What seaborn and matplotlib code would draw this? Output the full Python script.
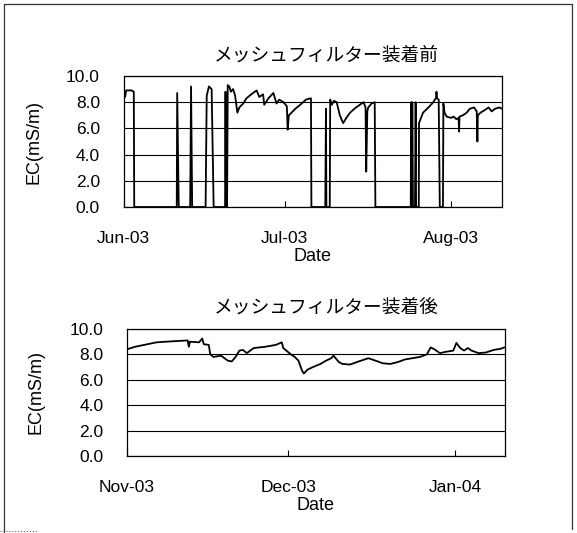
import matplotlib
matplotlib.use("Agg")
import matplotlib.pyplot as plt
import matplotlib.dates as mdates
from matplotlib.lines import Line2D
from matplotlib.ticker import FormatStrFormatter
import numpy as np
import pandas as pd
import seaborn as sns

# ---- EC record before the mesh filter was fitted (Jun - Aug 2003) ----
before_time = [
    "2003-06-01 00:00", "2003-06-01 07:00", "2003-06-01 12:00", "2003-06-02 12:00",
    "2003-06-02 22:00", "2003-06-03 00:00", "2003-06-10 22:00", "2003-06-11 00:00",
    "2003-06-11 07:00", "2003-06-13 10:00", "2003-06-13 14:00", "2003-06-13 19:00",
    "2003-06-16 07:00", "2003-06-16 12:00", "2003-06-16 22:00", "2003-06-17 10:00",
    "2003-06-17 19:00", "2003-06-19 22:00", "2003-06-20 00:00", "2003-06-20 02:00",
    "2003-06-20 07:00", "2003-06-20 10:00", "2003-06-20 17:00", "2003-06-21 00:00",
    "2003-06-21 10:00", "2003-06-21 19:00", "2003-06-22 05:00", "2003-06-22 14:00",
    "2003-06-23 07:00", "2003-06-23 22:00", "2003-06-24 19:00", "2003-06-25 19:00",
    "2003-06-26 07:00", "2003-06-27 00:00", "2003-06-27 05:00", "2003-06-28 00:00",
    "2003-06-28 22:00", "2003-06-29 12:00", "2003-06-30 00:00", "2003-06-30 19:00",
    "2003-07-01 10:00", "2003-07-01 14:00", "2003-07-01 19:00", "2003-07-02 07:00",
    "2003-07-03 00:00", "2003-07-03 22:00", "2003-07-05 00:00", "2003-07-05 22:00",
    "2003-07-06 00:00", "2003-07-08 14:00", "2003-07-08 17:00", "2003-07-08 19:00",
    "2003-07-09 10:00", "2003-07-09 12:00", "2003-07-09 19:00", "2003-07-10 05:00",
    "2003-07-10 17:00", "2003-07-11 07:00", "2003-07-11 22:00", "2003-07-12 12:00",
    "2003-07-13 05:00", "2003-07-14 00:00", "2003-07-15 00:00", "2003-07-15 17:00",
    "2003-07-16 02:00", "2003-07-16 05:00", "2003-07-16 10:00", "2003-07-16 14:00",
    "2003-07-17 05:00", "2003-07-17 19:00", "2003-07-17 22:00", "2003-07-24 12:00",
    "2003-07-24 14:00", "2003-07-24 17:00", "2003-07-24 19:00", "2003-07-24 22:00",
    "2003-07-25 07:00", "2003-07-25 10:00", "2003-07-25 12:00", "2003-07-26 00:00",
    "2003-07-26 01:00", "2003-07-26 19:00", "2003-07-27 19:00", "2003-07-28 17:00",
    "2003-07-29 00:00", "2003-07-29 05:00", "2003-07-29 07:00", "2003-07-29 10:00",
    "2003-07-29 17:00", "2003-07-29 22:00", "2003-07-30 12:00", "2003-07-30 14:00",
    "2003-07-30 19:00", "2003-07-31 05:00", "2003-08-01 00:00", "2003-08-01 12:00",
    "2003-08-02 00:00", "2003-08-02 10:00", "2003-08-02 12:00", "2003-08-02 14:00",
    "2003-08-03 05:00", "2003-08-03 22:00", "2003-08-04 12:00", "2003-08-05 07:00",
    "2003-08-05 19:00", "2003-08-05 22:00", "2003-08-06 00:00", "2003-08-06 12:00",
    "2003-08-07 07:00", "2003-08-08 00:00", "2003-08-08 14:00", "2003-08-09 05:00",
    "2003-08-10 00:00", "2003-08-10 12:00",
]
before_ec = [
    9.1, 8.4, 8.9, 8.9,
    8.8, 0.0, 0.0, 8.7,
    0.0, 0.0, 9.2, 0.0,
    0.0, 8.5, 9.2, 9.0,
    0.0, 0.0, 8.8, 0.0,
    0.0, 9.3, 9.2, 8.8,
    9.0, 8.5, 7.2, 7.6,
    7.9, 8.3, 8.6, 8.9,
    8.4, 8.6, 7.8, 8.3,
    8.7, 7.9, 8.2, 8.0,
    7.7, 5.9, 7.0, 7.2,
    7.5, 7.8, 8.2, 8.3,
    0.0, 0.0, 7.5, 0.0,
    0.0, 8.2, 7.8, 8.1,
    8.0, 7.0, 6.4, 6.8,
    7.2, 7.5, 7.8, 8.0,
    7.6, 2.7, 7.3, 7.6,
    7.9, 8.0, 0.0, 0.0,
    8.0, 0.0, 8.0, 0.0,
    0.0, 8.0, 0.0, 0.0,
    6.4, 7.2, 7.6, 8.0,
    8.2, 8.3, 8.8, 8.3,
    8.2, 0.0, 0.0, 7.9,
    7.2, 6.9, 6.8, 6.9,
    6.7, 6.8, 5.75, 6.9,
    7.0, 7.2, 7.5, 7.6,
    7.3, 5.0, 7.0, 7.2,
    7.4, 7.6, 7.3, 7.5,
    7.6, 7.5,
]

# ---- EC record after the mesh filter was fitted (Nov 2003 - Jan 2004) ----
after_time = [
    "2003-11-01 00:00", "2003-11-02 12:00", "2003-11-04 19:00", "2003-11-06 12:00",
    "2003-11-08 05:00", "2003-11-10 05:00", "2003-11-12 07:00", "2003-11-12 12:00",
    "2003-11-12 17:00", "2003-11-14 10:00", "2003-11-15 00:00", "2003-11-15 07:00",
    "2003-11-16 05:00", "2003-11-16 12:00", "2003-11-17 02:00", "2003-11-18 12:00",
    "2003-11-19 19:00", "2003-11-20 12:00", "2003-11-21 05:00", "2003-11-21 22:00",
    "2003-11-22 14:00", "2003-11-23 07:00", "2003-11-24 14:00", "2003-11-26 17:00",
    "2003-11-28 17:00", "2003-11-29 19:00", "2003-11-30 02:00", "2003-12-01 12:00",
    "2003-12-02 05:00", "2003-12-02 22:00", "2003-12-03 14:00", "2003-12-03 22:00",
    "2003-12-04 14:00", "2003-12-05 14:00", "2003-12-07 00:00", "2003-12-08 00:00",
    "2003-12-09 00:00", "2003-12-09 10:00", "2003-12-10 10:00", "2003-12-11 02:00",
    "2003-12-12 12:00", "2003-12-13 19:00", "2003-12-15 05:00", "2003-12-15 22:00",
    "2003-12-17 07:00", "2003-12-18 14:00", "2003-12-20 00:00", "2003-12-21 10:00",
    "2003-12-22 17:00", "2003-12-24 02:00", "2003-12-25 12:00", "2003-12-26 19:00",
    "2003-12-27 12:00", "2003-12-28 05:00", "2003-12-29 05:00", "2003-12-30 07:00",
    "2003-12-31 17:00", "2004-01-01 07:00", "2004-01-02 00:00", "2004-01-02 17:00",
    "2004-01-03 10:00", "2004-01-04 02:00", "2004-01-05 10:00", "2004-01-06 19:00",
    "2004-01-08 05:00", "2004-01-09 14:00", "2004-01-10 05:00",
]
after_ec = [
    8.4, 8.6, 8.8, 8.95,
    9.0, 9.05, 9.1, 8.6,
    9.0, 8.95, 9.25, 8.8,
    8.75, 8.0, 7.8, 7.9,
    7.5, 7.45, 7.8, 8.3,
    8.35, 8.1, 8.5, 8.6,
    8.75, 8.95, 8.5, 8.0,
    7.8, 7.5, 6.7, 6.5,
    6.8, 7.0, 7.25, 7.5,
    7.7, 7.9, 7.4, 7.25,
    7.2, 7.4, 7.6, 7.7,
    7.5, 7.3, 7.25, 7.4,
    7.6, 7.7, 7.8, 8.0,
    8.55, 8.4, 8.1, 8.2,
    8.3, 8.9, 8.5, 8.3,
    8.5, 8.3, 8.1, 8.15,
    8.35, 8.45, 8.55,
]

panels = [
    {"title": "メッシュフィルター装着前", "time": before_time, "ec": before_ec,
     "xlim": ("2003-06-01 00:00", "2003-08-10 12:00")},
    {"title": "メッシュフィルター装着後", "time": after_time, "ec": after_ec,
     "xlim": ("2003-11-01 00:00", "2004-01-10 08:00")},
]
y_ticks = [0.0, 2.0, 4.0, 6.0, 8.0, 10.0]

sns.set_theme(style="white")
plt.rcParams["font.family"] = ["Liberation Sans", "Noto Sans CJK JP"]

W, H = 577, 533
fig = plt.figure(figsize=(W / 100, H / 100), dpi=100)
fig.patch.set_facecolor("white")

# axes boxes in pixel coordinates: left, top, right, bottom
boxes = [(123.5, 76, 502, 207), (127, 329, 505, 456)]
title_y = [55, 307]
ylabel_x = [42, 45]

for panel, (l, t, r, b), ty, lx in zip(panels, boxes, title_y, ylabel_x):
    ax = fig.add_axes([l / W, 1 - b / H, (r - l) / W, (b - t) / H])
    df = pd.DataFrame({"Date": pd.to_datetime(panel["time"]), "EC": panel["ec"]})
    sns.lineplot(data=df, x="Date", y="EC", ax=ax, color="black",
                 linewidth=1.3, estimator=None, sort=False)

    ax.set_xlim(pd.Timestamp(panel["xlim"][0]), pd.Timestamp(panel["xlim"][1]))
    ax.set_ylim(0, 10)
    ax.set_yticks(y_ticks)
    ax.yaxis.set_major_formatter(FormatStrFormatter("%.1f"))
    ax.xaxis.set_major_locator(mdates.MonthLocator())
    ax.xaxis.set_major_formatter(mdates.DateFormatter("%b-%y"))

    ax.yaxis.grid(True, color="black", linewidth=0.8)
    ax.xaxis.grid(False)
    for s in ax.spines.values():
        s.set_color("black")
        s.set_linewidth(0.9)

    ax.tick_params(axis="y", length=0, pad=17, labelsize=12.5, labelcolor="black")
    ax.tick_params(axis="x", direction="in", length=4, width=0.8, color="black",
                   pad=17, labelsize=12.5, labelcolor="black", bottom=True)

    ax.set_xlabel("Date", fontsize=13, color="black", labelpad=2)
    ax.set_ylabel("EC(mS/m)", fontsize=13, color="black")
    ax.yaxis.set_label_coords((lx - l) / (r - l), 0.5)

    fig.text(326 / W, 1 - ty / H, panel["title"], ha="center", va="center",
             fontsize=13.5, family=["Noto Sans CJK JP", "DejaVu Sans"], color="black")

# outer frame of the figure
frame_kw = dict(color="#333333", linewidth=0.9, transform=fig.transFigure)
fig.add_artist(Line2D([4 / W, 4 / W], [0, 1 - 4 / H], **frame_kw))
fig.add_artist(Line2D([4 / W, 572 / W], [1 - 4 / H, 1 - 4 / H], **frame_kw))
fig.add_artist(Line2D([572 / W, 572 / W], [1 - 4 / H, 1 - 529 / H], **frame_kw))
fig.add_artist(Line2D([0, 38 / W], [1 - 531 / H, 1 - 531 / H], color="#666666",
                      linewidth=0.8, linestyle=":", transform=fig.transFigure))

fig.savefig("out.png", dpi=100, facecolor="white")
